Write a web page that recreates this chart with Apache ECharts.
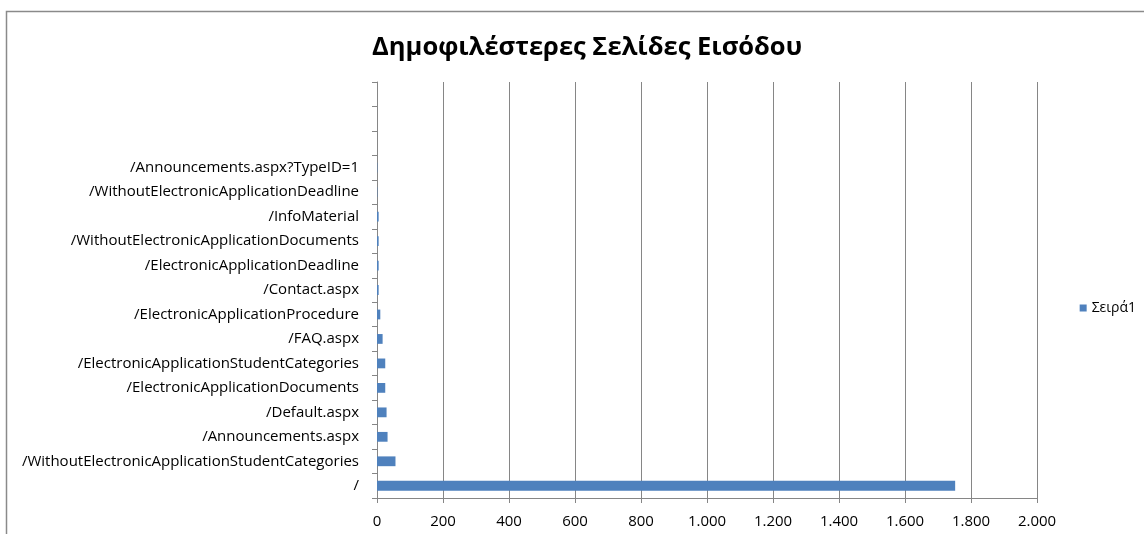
<!DOCTYPE html>
<html><head><meta charset="utf-8">
<script src="https://cdn.jsdelivr.net/npm/echarts@6/dist/echarts.min.js"></script>
<style>html,body{margin:0;padding:0;background:#fff}#c{width:1144px;height:534px}</style>
</head><body><div id="c"></div>
<script>
const titleText = 'Δημοφιλέστερες Σελίδες Εισόδου';
const seriesName = 'Σειρά1';
// bottom-to-top order
const categories = ['/', '/WithoutElectronicApplicationStudentCategories', '/Announcements.aspx', '/Default.aspx',
  '/ElectronicApplicationDocuments', '/ElectronicApplicationStudentCategories', '/FAQ.aspx',
  '/ElectronicApplicationProcedure', '/Contact.aspx', '/ElectronicApplicationDeadline',
  '/WithoutElectronicApplicationDocuments', '/InfoMaterial', '/WithoutElectronicApplicationDeadline',
  '/Announcements.aspx?TypeID=1', '', ' ', '  '];
const values = [1752, 56, 32, 29, 25, 25, 17, 10, 5, 5, 5, 5, 1, 1, null, null, null];
const xTicks = [0, 200, 400, 600, 800, 1000, 1200, 1400, 1600, 1800, 2000];

const font = '"Open Sans", "Liberation Sans", sans-serif';
const chart = echarts.init(document.getElementById('c'));
chart.setOption({
  animation: false,
  title: { text: titleText, left: 367, top: 30, textStyle: { fontFamily: font, fontSize: 25.5, fontWeight: 'bold', color: '#000' } },
  legend: { data: [seriesName], right: 3, top: 296, orient: 'vertical', itemWidth: 7, itemHeight: 7, itemGap: 4,
    icon: 'rect', textStyle: { fontFamily: font, fontSize: 14, color: '#000' } },
  grid: { left: 377, right: 107, top: 82, bottom: 36, containLabel: false },
  xAxis: {
    type: 'value', min: xTicks[0], max: xTicks[xTicks.length - 1], interval: 200,
    axisLine: { show: true, lineStyle: { color: '#868686' } },
    axisTick: { show: true, length: 5, lineStyle: { color: '#868686' } },
    splitLine: { show: true, lineStyle: { color: '#868686', width: 1 } },
    axisLabel: { fontFamily: font, fontSize: 15, color: '#000', margin: 16,
      formatter: v => v.toLocaleString('de-DE') }
  },
  yAxis: {
    type: 'category', data: categories,
    axisLine: { show: true, lineStyle: { color: '#868686' } },
    axisTick: { show: true, length: 5, inside: false, lineStyle: { color: '#868686' } },
    axisLabel: { fontFamily: font, fontSize: 15, color: '#000', margin: 18, interval: 0 }
  },
  series: [{ name: seriesName, type: 'bar', data: values, barCategoryGap: '60%',
    itemStyle: { color: '#4f81bd' } }],
  graphic: [{ type: 'rect', shape: { x: 6.5, y: 11.5, width: 1200, height: 600 },
    style: { fill: 'none', stroke: '#8a8a8a', lineWidth: 1.5 }, silent: true }]
});
</script></body></html>
